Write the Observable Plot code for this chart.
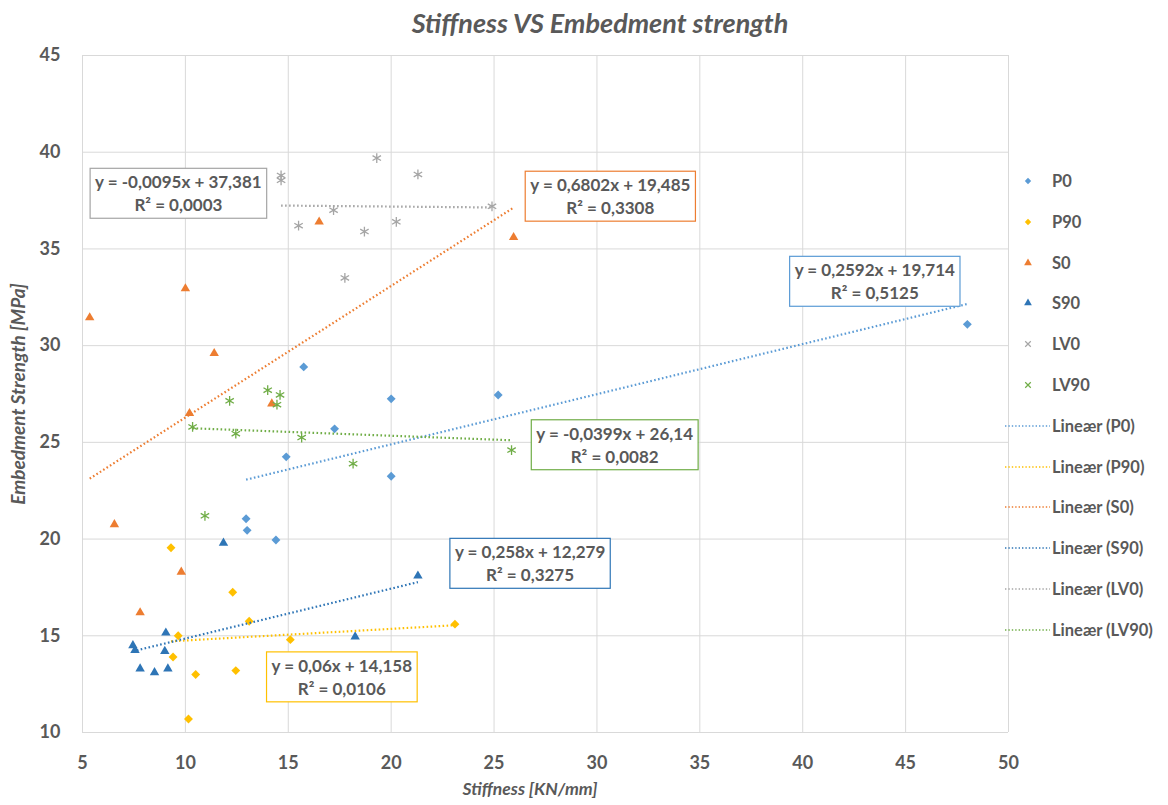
<!DOCTYPE html>
<html>
<head>
<meta charset="utf-8">
<script src="https://cdn.jsdelivr.net/npm/d3@7"></script>
<script src="https://cdn.jsdelivr.net/npm/@observablehq/plot@0.6"></script>
<style>
  html, body { margin: 0; padding: 0; background: #fff; }
  #chart { position: relative; width: 1168px; height: 805px; font-family: Lato, "Open Sans", sans-serif; color: #595959; }
  #chart > svg { position: absolute; left: 0; top: 0; }
  .title { position: absolute; top: 9px; left: 600px; transform: translateX(-50%); white-space: nowrap;
           font-size: 27px; font-weight: 700; font-style: italic; line-height: 1; }
  .xtitle { position: absolute; top: 780px; left: 530px; transform: translateX(-50%); white-space: nowrap;
            font-size: 17.5px; font-weight: 700; font-style: italic; line-height: 1; }
  .ytitle { position: absolute; left: 17px; top: 394px; transform: translate(-50%, -50%) rotate(-90deg); white-space: nowrap;
            font-size: 19px; font-weight: 700; font-style: italic; line-height: 1; }
  .legend { position: absolute; left: 1004px; top: 0; }
  .legend .item { position: absolute; left: 0; height: 20px; display: flex; align-items: center; white-space: nowrap;
                  font-size: 16.5px; font-weight: 700; }
  .legend .item svg { display: block; flex: none; }
</style>
</head>
<body>
<div id="chart"></div>
<script>
// Series names and colours
const seriesNames = ["P0", "P90", "S0", "S90", "LV0", "LV90"];
const seriesColors = ["#5B9BD5", "#FFC000", "#ED7D31", "#2E75B6", "#A5A5A5", "#70AD47"];

// Stiffness [KN/mm] per series
const p0Stiffness   = [12.95, 13.0, 14.4, 14.9, 15.75, 17.25, 20.0, 20.0, 25.2, 48.0];
const p90Stiffness  = [9.3, 9.4, 9.65, 10.15, 10.5, 12.3, 12.45, 13.1, 15.1, 23.1];
const s0Stiffness   = [5.35, 6.55, 7.8, 9.8, 10.0, 10.2, 11.4, 14.2, 16.5, 25.95];
const s90Stiffness  = [7.45, 7.55, 7.8, 8.5, 9.0, 9.05, 9.15, 11.85, 18.25, 21.3];
const lv0Stiffness  = [14.65, 14.65, 15.5, 17.2, 17.75, 18.7, 19.3, 20.25, 21.3, 24.9];
const lv90Stiffness = [10.35, 10.95, 12.15, 12.45, 14.0, 14.45, 14.6, 15.65, 18.15, 25.85];

// Embedment strength [MPa] per series
const p0Strength   = [21.05, 20.45, 19.95, 24.25, 28.9, 25.7, 27.25, 23.25, 27.45, 31.1];
const p90Strength  = [19.55, 13.9, 15.0, 10.7, 13.0, 17.25, 13.2, 15.75, 14.8, 15.6];
const s0Strength   = [31.45, 20.75, 16.2, 18.3, 32.95, 26.5, 29.6, 27.0, 36.4, 35.6];
const s90Strength  = [14.5, 14.25, 13.3, 13.1, 14.2, 15.15, 13.3, 19.8, 14.95, 18.1];
const lv0Strength  = [38.8, 38.55, 36.2, 37.0, 33.5, 35.9, 39.7, 36.4, 38.85, 37.2];
const lv90Strength = [25.8, 21.2, 27.15, 25.45, 27.7, 26.95, 27.45, 25.25, 23.9, 24.6];

// Linear trend lines: y = slope * x + intercept, with R²
const trendSlope     = [0.2592, 0.06, 0.6802, 0.258, -0.0095, -0.0399];
const trendIntercept = [19.714, 14.158, 19.485, 12.279, 37.381, 26.14];
const trendR2        = [0.5125, 0.0106, 0.3308, 0.3275, 0.0003, 0.0082];

// Where each equation label sits (stiffness, strength)
const equationAtX = [43.5, 17.6, 30.65, 26.75, 9.66, 30.86];
const equationAtY = [33.37, 12.92, 37.77, 18.79, 37.92, 24.92];

// Axis ticks
const xTicks = [5, 10, 15, 20, 25, 30, 35, 40, 45, 50];
const yTicks = [10, 15, 20, 25, 30, 35, 40, 45];

const stiffness = [p0Stiffness, p90Stiffness, s0Stiffness, s90Stiffness, lv0Stiffness, lv90Stiffness];
const strength  = [p0Strength, p90Strength, s0Strength, s90Strength, lv0Strength, lv90Strength];
const symbols   = ["diamond2", "diamond2", "triangle", "triangle", "asterisk", "asterisk"];
const dotRadius = [4, 4, 3.5, 3.5, 4.6, 4.6];

const points = seriesNames.map((name, i) =>
  stiffness[i].map((x, j) => ({series: name, x, y: strength[i][j]})));

const trendRows = seriesNames.map((name, i) => {
  const [lo, hi] = d3.extent(stiffness[i]);
  return [lo, hi].map(x => ({series: name, x, y: trendSlope[i] * x + trendIntercept[i]}));
});

const decimal = v => String(v).replace(".", ",");
const equations = seriesNames.map((name, i) => ({
  x: equationAtX[i],
  y: equationAtY[i],
  text: `y = ${decimal(trendSlope[i])}x + ${decimal(trendIntercept[i])}\nR² = ${decimal(trendR2[i])}`
}));

const dotMarks = seriesNames.map((name, i) => {
  const filled = symbols[i] !== "asterisk";
  return Plot.dot(points[i], {
    x: "x", y: "y", symbol: symbols[i], r: dotRadius[i],
    fill: filled ? seriesColors[i] : "none",
    stroke: filled ? "none" : seriesColors[i],
    strokeWidth: 1.3
  });
});

const trendMarks = seriesNames.map((name, i) =>
  Plot.line(trendRows[i], {
    x: "x", y: "y", stroke: seriesColors[i], strokeWidth: 2.2,
    strokeDasharray: "1.6 2.4", strokeLinecap: "butt"
  }));

const tickFont = {fontSize: 18, fontWeight: 700, fill: "#595959"};

const chart = Plot.plot({
  width: 1168,
  height: 805,
  marginLeft: 82,
  marginRight: 160,
  marginTop: 55,
  marginBottom: 73,
  style: {fontFamily: "Lato, 'Open Sans', sans-serif", color: "#595959", background: "#fff"},
  x: {domain: [5, 50], ticks: xTicks},
  y: {domain: [10, 45], ticks: yTicks},
  marks: [
    Plot.gridX(xTicks, {stroke: "#d9d9d9", strokeOpacity: 1, strokeWidth: 1}),
    Plot.gridY(yTicks, {stroke: "#d9d9d9", strokeOpacity: 1, strokeWidth: 1}),
    Plot.axisX(xTicks, {tickSize: 0, tickPadding: 24, label: null, ...tickFont}),
    Plot.axisY(yTicks, {tickSize: 0, tickPadding: 22, label: null, ...tickFont}),
    ...dotMarks,
    ...trendMarks,
    Plot.text(equations, {
      x: "x", y: "y", text: "text", fill: "#595959", fontSize: 17, fontWeight: 700,
      lineHeight: 1.35, textAnchor: "middle"
    })
  ]
});

const root = document.getElementById("chart");
root.appendChild(chart);

// Framed boxes behind the trend equations
d3.select(chart).selectAll("text")
  .filter(function () { return this.textContent.startsWith("y ="); })
  .each(function (_, k) {
    const bb = this.getBBox();
    const i = equations.findIndex(e => e.text.replace("\n", "") === this.textContent);
    const rect = document.createElementNS("http://www.w3.org/2000/svg", "rect");
    rect.setAttribute("x", bb.x - 5);
    rect.setAttribute("y", bb.y - 3);
    rect.setAttribute("width", bb.width + 10);
    rect.setAttribute("height", bb.height + 6);
    rect.setAttribute("fill", "#fff");
    rect.setAttribute("stroke", seriesColors[i >= 0 ? i : k]);
    rect.setAttribute("stroke-width", 1.2);
    const tf = this.getAttribute("transform");
    if (tf) rect.setAttribute("transform", tf);
    this.parentNode.insertBefore(rect, this);
  });

// Titles
const addDiv = (cls, txt) => {
  const d = document.createElement("div");
  d.className = cls;
  d.textContent = txt;
  root.appendChild(d);
};
addDiv("title", "Stiffness VS Embedment strength");
addDiv("xtitle", "Stiffness [KN/mm]");
addDiv("ytitle", "Embedment Strength [MPa]");

// Legend: markers then dotted trend lines
const legend = d3.select(root).append("div").attr("class", "legend");
const legendTop = 181, legendStep = 40.8;
const legendItems = [
  ...seriesNames.map((n, i) => ({label: n, kind: "marker", i})),
  ...seriesNames.map((n, i) => ({label: `Lineær (${n})`, kind: "line", i}))
];
legendItems.forEach((item, k) => {
  const row = legend.append("div").attr("class", "item")
    .style("top", `${legendTop + k * legendStep - 10}px`);
  const sw = row.append("svg").attr("width", 48).attr("height", 20);
  const color = seriesColors[item.i];
  if (item.kind === "marker") {
    const sym = {diamond2: d3.symbolDiamond2, triangle: d3.symbolTriangle, asterisk: d3.symbolTimes}[symbols[item.i]];
    const size = symbols[item.i] === "asterisk" ? 22 : 26;
    const filled = symbols[item.i] !== "asterisk";
    sw.append("path")
      .attr("d", d3.symbol(sym, size)())
      .attr("transform", "translate(24,10)")
      .attr("fill", filled ? color : "none")
      .attr("stroke", filled ? "none" : color)
      .attr("stroke-width", 1.2);
  } else {
    sw.append("line")
      .attr("x1", 1).attr("x2", 46).attr("y1", 10).attr("y2", 10)
      .attr("stroke", color).attr("stroke-width", 1.6)
      .attr("stroke-dasharray", "1.4 2");
  }
  row.append("span").text(item.label);
});
</script>
</body>
</html>
